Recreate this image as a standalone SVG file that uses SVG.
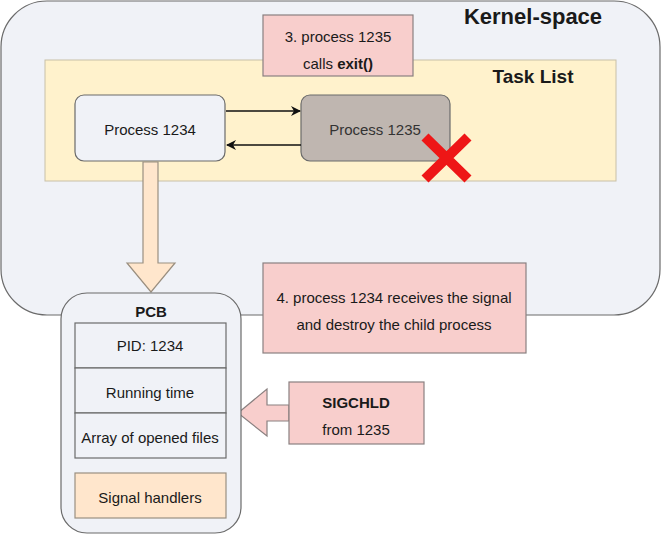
<svg xmlns="http://www.w3.org/2000/svg" width="662" height="536" viewBox="0 0 662 536">
<style>
text{font-family:"Liberation Sans",Arial,sans-serif;font-size:15px;fill:#1a1a1a;text-anchor:middle}
.b{font-weight:bold}
.box{stroke:#6b6b6b;stroke-width:1.2}
.pink{fill:#f8cecc;stroke:#8a8080;stroke-width:1.2}
.peach{fill:#ffe6cc;stroke:#9a8f80;stroke-width:1.2}
.row{fill:#f0f2f7;stroke:#6b6b6b;stroke-width:1.2}
</style>
<defs>
<marker id="ah" markerWidth="10" markerHeight="10" refX="9" refY="5" orient="auto" markerUnits="userSpaceOnUse">
<path d="M0,0 L10,5 L0,10 L3,5 Z" fill="#111"/>
</marker>
</defs>
<g id="kernel">
<rect x="1" y="1" width="659" height="314" rx="46" fill="#f0f2f7" stroke="#6b6b6b" stroke-width="1.2"/>
<text x="533" y="24" class="b" style="font-size:22px">Kernel-space</text>
</g>
<g id="tasklist">
<rect x="45" y="60" width="571" height="121" fill="#fff2cc" stroke="#c8c0a8" stroke-width="1"/>
<text x="533" y="83" class="b" style="font-size:19px">Task List</text>
</g>
<g id="note3">
<rect x="263" y="15" width="150" height="61" class="pink"/>
<text x="338" y="42">3. process 1235</text>
<text x="338" y="69">calls <tspan class="b">exit()</tspan></text>
</g>
<g id="p1234">
<rect x="75" y="95" width="150" height="66" rx="9" fill="#f0f2f7" class="box"/>
<text x="150" y="135">Process 1234</text>
</g>
<g id="p1235">
<rect x="301" y="95" width="149" height="66" rx="9" fill="#bfb6b0" class="box"/>
<text x="375" y="135" style="fill:#333">Process 1235</text>
</g>
<g id="cross">
<path d="M425,137 L468,179 M468,137 L425,179" stroke="#ee1616" stroke-width="10"/>
</g>
<g id="connectors">
<line x1="226" y1="111" x2="300" y2="111" stroke="#111" stroke-width="1.3" marker-end="url(#ah)"/>
<line x1="301" y1="145" x2="227" y2="145" stroke="#111" stroke-width="1.3" marker-end="url(#ah)"/>
<path d="M143,162 L158,162 L158,263 L175,263 L151,292 L127,263 L143,263 Z" class="peach"/>
<path d="M289,405 L267,405 L267,389 L238,413 L267,436 L267,421 L289,421 Z" fill="#f8cecc" stroke="#8a8080" stroke-width="1.2"/>
</g>
<g id="pcb">
<rect x="61" y="293" width="180" height="240" rx="26" fill="#f0f2f7" class="box"/>
<text x="151" y="317" class="b">PCB</text>
<rect x="75" y="323" width="151" height="45" class="row"/>
<text x="150" y="351">PID: 1234</text>
<rect x="75" y="368" width="151" height="45" class="row"/>
<text x="150" y="398">Running time</text>
<rect x="75" y="413" width="151" height="45" class="row"/>
<text x="150" y="443">Array of opened files</text>
<rect x="75" y="473" width="151" height="45" class="peach"/>
<text x="150" y="503">Signal handlers</text>
</g>
<g id="note4">
<rect x="263" y="263" width="263" height="90" class="pink"/>
<text x="394" y="303">4. process 1234 receives the signal</text>
<text x="394" y="330">and destroy the child process</text>
</g>
<g id="sigchld">
<rect x="289" y="382" width="135" height="62" class="pink"/>
<text x="356" y="408" class="b">SIGCHLD</text>
<text x="356" y="435">from 1235</text>
</g>
</svg>
